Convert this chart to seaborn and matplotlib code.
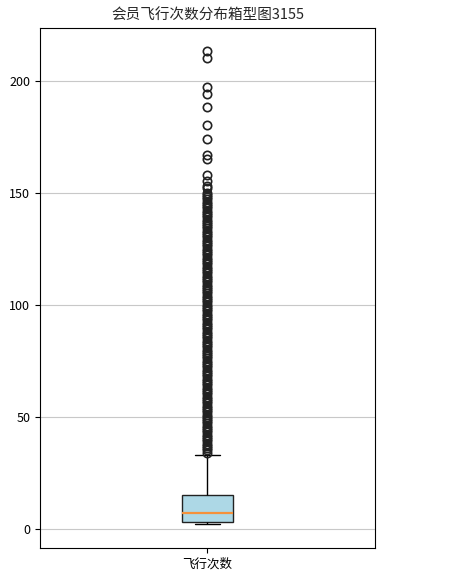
import numpy as np
import pandas as pd
import matplotlib
matplotlib.use("Agg")
import matplotlib.pyplot as plt
import seaborn as sns

# valori (numero di voli per socio)
# corpo della distribuzione: valore -> quanti soci (Q1~3, mediana~7, Q3~15, baffo sup.~33)
body_values = [2, 3, 4, 5, 6, 7, 8, 9, 10, 11, 12, 13, 14, 15,
               16, 17, 18, 19, 20, 21, 22, 23, 24, 25, 26, 27, 28, 29, 30, 31, 32, 33]
body_counts = [200, 400, 150, 130, 110, 100, 50, 50, 50, 50, 50, 50, 50, 100,
               40, 35, 30, 28, 25, 22, 20, 18, 16, 14, 12, 11, 10, 9, 8, 7, 6, 5]
top_outliers = [213, 210, 197, 194, 188, 180, 174, 167, 165, 158, 155, 153, 152, 150]
dense_start, dense_end = 34, 149  # colonna continua di outlier (ogni intero)
dense_outliers = list(range(dense_start, dense_end + 1))

values = list(np.repeat(body_values, body_counts)) + dense_outliers + top_outliers
df = pd.DataFrame({"飞行次数": values})

sns.set_style("ticks")
plt.rcParams['font.family'] = ['Noto Sans CJK SC', 'DejaVu Sans']
plt.rcParams['axes.unicode_minus'] = False

fig = plt.figure(figsize=(4.56, 5.81), dpi=100)
ax = fig.add_axes([0.088, 0.057, 0.734, 0.895])

sns.boxplot(data=df, ax=ax, width=0.15, whis=1.5,
            boxprops=dict(facecolor='lightblue', edgecolor='#222222', linewidth=1),
            medianprops=dict(color='#f5913b', linewidth=1.6),
            whiskerprops=dict(color='black', linewidth=1),
            capprops=dict(color='black', linewidth=1),
            flierprops=dict(marker='o', markerfacecolor='none', markeredgecolor='#222222',
                            markersize=6, markeredgewidth=1.2))

ax.set_ylim(-8.5, 223.5)
ax.set_yticks([0, 50, 100, 150, 200])
ax.yaxis.grid(True, color='#c8c8c8', linewidth=0.8)
ax.set_axisbelow(True)
for s in ax.spines.values():
    s.set_visible(True)
    s.set_color('black')
    s.set_linewidth(0.8)
ax.tick_params(labelsize=9, colors='black', length=3.5)
ax.set_title("会员飞行次数分布箱型图3155", fontsize=10.5)

fig.savefig("out.png", dpi=100)
